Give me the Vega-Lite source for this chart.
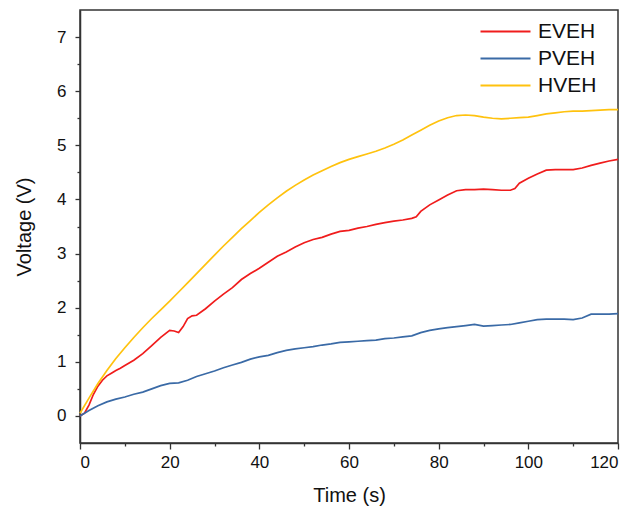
{
  "$schema": "https://vega.github.io/schema/vega-lite/v6.json",
  "width": 538,
  "height": 433,
  "autosize": {"type": "none"},
  "padding": {"left": 80, "top": 10, "right": 17, "bottom": 68},
  "background": "white",
  "config": {
    "font": "Liberation Sans",
    "view": {"stroke": "#333", "strokeWidth": 1.5},
    "axis": {
      "domainColor": "#333", "domainWidth": 1.5,
      "tickColor": "#333", "tickWidth": 1.3,
      "labelColor": "#111", "titleColor": "#111",
      "labelFont": "Liberation Sans", "titleFont": "Liberation Sans",
      "labelFontSize": 17, "titleFontSize": 20, "titleFontWeight": "normal",
      "grid": false
    },
    "legend": {"labelFont": "Liberation Sans", "labelFontSize": 21, "labelColor": "#111"}
  },
  "data": {"values": [
    {"t":0,"s":"EVEH","v":0.0},{"t":1,"s":"EVEH","v":0.05},{"t":2,"s":"EVEH","v":0.2},{"t":3,"s":"EVEH","v":0.4},{"t":4,"s":"EVEH","v":0.55},{"t":5,"s":"EVEH","v":0.66},{"t":6,"s":"EVEH","v":0.74},{"t":7,"s":"EVEH","v":0.79},{"t":8,"s":"EVEH","v":0.84},{"t":9,"s":"EVEH","v":0.88},{"t":10,"s":"EVEH","v":0.93},{"t":12,"s":"EVEH","v":1.03},{"t":14,"s":"EVEH","v":1.15},{"t":16,"s":"EVEH","v":1.3},{"t":18,"s":"EVEH","v":1.45},{"t":20,"s":"EVEH","v":1.58},{"t":21,"s":"EVEH","v":1.57},{"t":22,"s":"EVEH","v":1.54},{"t":23,"s":"EVEH","v":1.65},{"t":24,"s":"EVEH","v":1.8},{"t":25,"s":"EVEH","v":1.85},{"t":26,"s":"EVEH","v":1.86},{"t":28,"s":"EVEH","v":1.98},{"t":30,"s":"EVEH","v":2.12},{"t":32,"s":"EVEH","v":2.25},{"t":34,"s":"EVEH","v":2.37},{"t":36,"s":"EVEH","v":2.52},{"t":38,"s":"EVEH","v":2.63},{"t":40,"s":"EVEH","v":2.73},{"t":42,"s":"EVEH","v":2.84},{"t":44,"s":"EVEH","v":2.95},{"t":46,"s":"EVEH","v":3.03},{"t":48,"s":"EVEH","v":3.12},{"t":50,"s":"EVEH","v":3.2},{"t":52,"s":"EVEH","v":3.26},{"t":54,"s":"EVEH","v":3.3},{"t":56,"s":"EVEH","v":3.36},{"t":58,"s":"EVEH","v":3.41},{"t":60,"s":"EVEH","v":3.43},{"t":62,"s":"EVEH","v":3.47},{"t":64,"s":"EVEH","v":3.5},{"t":66,"s":"EVEH","v":3.54},{"t":68,"s":"EVEH","v":3.57},{"t":70,"s":"EVEH","v":3.6},{"t":72,"s":"EVEH","v":3.62},{"t":74,"s":"EVEH","v":3.65},{"t":75,"s":"EVEH","v":3.68},{"t":76,"s":"EVEH","v":3.78},{"t":78,"s":"EVEH","v":3.9},{"t":80,"s":"EVEH","v":3.99},{"t":82,"s":"EVEH","v":4.08},{"t":84,"s":"EVEH","v":4.16},{"t":86,"s":"EVEH","v":4.18},{"t":88,"s":"EVEH","v":4.18},{"t":90,"s":"EVEH","v":4.19},{"t":92,"s":"EVEH","v":4.18},{"t":94,"s":"EVEH","v":4.17},{"t":96,"s":"EVEH","v":4.17},{"t":97,"s":"EVEH","v":4.2},{"t":98,"s":"EVEH","v":4.3},{"t":100,"s":"EVEH","v":4.39},{"t":102,"s":"EVEH","v":4.47},{"t":104,"s":"EVEH","v":4.54},{"t":106,"s":"EVEH","v":4.55},{"t":108,"s":"EVEH","v":4.55},{"t":110,"s":"EVEH","v":4.55},{"t":112,"s":"EVEH","v":4.58},{"t":114,"s":"EVEH","v":4.63},{"t":116,"s":"EVEH","v":4.67},{"t":118,"s":"EVEH","v":4.71},{"t":120,"s":"EVEH","v":4.74},

    {"t":0,"s":"PVEH","v":0.0},{"t":2,"s":"PVEH","v":0.1},{"t":4,"s":"PVEH","v":0.19},{"t":6,"s":"PVEH","v":0.26},{"t":8,"s":"PVEH","v":0.31},{"t":10,"s":"PVEH","v":0.35},{"t":12,"s":"PVEH","v":0.4},{"t":14,"s":"PVEH","v":0.44},{"t":16,"s":"PVEH","v":0.5},{"t":18,"s":"PVEH","v":0.56},{"t":20,"s":"PVEH","v":0.6},{"t":22,"s":"PVEH","v":0.61},{"t":24,"s":"PVEH","v":0.66},{"t":26,"s":"PVEH","v":0.73},{"t":28,"s":"PVEH","v":0.78},{"t":30,"s":"PVEH","v":0.83},{"t":32,"s":"PVEH","v":0.89},{"t":34,"s":"PVEH","v":0.94},{"t":36,"s":"PVEH","v":0.99},{"t":38,"s":"PVEH","v":1.05},{"t":40,"s":"PVEH","v":1.09},{"t":42,"s":"PVEH","v":1.12},{"t":44,"s":"PVEH","v":1.17},{"t":46,"s":"PVEH","v":1.21},{"t":48,"s":"PVEH","v":1.24},{"t":50,"s":"PVEH","v":1.26},{"t":52,"s":"PVEH","v":1.28},{"t":54,"s":"PVEH","v":1.31},{"t":56,"s":"PVEH","v":1.33},{"t":58,"s":"PVEH","v":1.36},{"t":60,"s":"PVEH","v":1.37},{"t":62,"s":"PVEH","v":1.38},{"t":64,"s":"PVEH","v":1.39},{"t":66,"s":"PVEH","v":1.4},{"t":68,"s":"PVEH","v":1.43},{"t":70,"s":"PVEH","v":1.44},{"t":72,"s":"PVEH","v":1.46},{"t":74,"s":"PVEH","v":1.48},{"t":76,"s":"PVEH","v":1.54},{"t":78,"s":"PVEH","v":1.58},{"t":80,"s":"PVEH","v":1.61},{"t":82,"s":"PVEH","v":1.63},{"t":84,"s":"PVEH","v":1.65},{"t":86,"s":"PVEH","v":1.67},{"t":88,"s":"PVEH","v":1.69},{"t":90,"s":"PVEH","v":1.66},{"t":92,"s":"PVEH","v":1.67},{"t":94,"s":"PVEH","v":1.68},{"t":96,"s":"PVEH","v":1.69},{"t":98,"s":"PVEH","v":1.72},{"t":100,"s":"PVEH","v":1.75},{"t":102,"s":"PVEH","v":1.78},{"t":104,"s":"PVEH","v":1.79},{"t":106,"s":"PVEH","v":1.79},{"t":108,"s":"PVEH","v":1.79},{"t":110,"s":"PVEH","v":1.78},{"t":112,"s":"PVEH","v":1.81},{"t":114,"s":"PVEH","v":1.88},{"t":116,"s":"PVEH","v":1.88},{"t":118,"s":"PVEH","v":1.88},{"t":120,"s":"PVEH","v":1.89},

    {"t":0,"s":"HVEH","v":0.05},{"t":2,"s":"HVEH","v":0.33},{"t":4,"s":"HVEH","v":0.6},{"t":6,"s":"HVEH","v":0.84},{"t":8,"s":"HVEH","v":1.06},{"t":10,"s":"HVEH","v":1.26},{"t":12,"s":"HVEH","v":1.45},{"t":14,"s":"HVEH","v":1.63},{"t":16,"s":"HVEH","v":1.8},{"t":18,"s":"HVEH","v":1.96},{"t":20,"s":"HVEH","v":2.12},{"t":22,"s":"HVEH","v":2.29},{"t":24,"s":"HVEH","v":2.46},{"t":26,"s":"HVEH","v":2.63},{"t":28,"s":"HVEH","v":2.8},{"t":30,"s":"HVEH","v":2.97},{"t":32,"s":"HVEH","v":3.14},{"t":34,"s":"HVEH","v":3.3},{"t":36,"s":"HVEH","v":3.46},{"t":38,"s":"HVEH","v":3.61},{"t":40,"s":"HVEH","v":3.76},{"t":42,"s":"HVEH","v":3.9},{"t":44,"s":"HVEH","v":4.03},{"t":46,"s":"HVEH","v":4.15},{"t":48,"s":"HVEH","v":4.26},{"t":50,"s":"HVEH","v":4.36},{"t":52,"s":"HVEH","v":4.45},{"t":54,"s":"HVEH","v":4.53},{"t":56,"s":"HVEH","v":4.61},{"t":58,"s":"HVEH","v":4.68},{"t":60,"s":"HVEH","v":4.74},{"t":62,"s":"HVEH","v":4.79},{"t":64,"s":"HVEH","v":4.84},{"t":66,"s":"HVEH","v":4.89},{"t":68,"s":"HVEH","v":4.95},{"t":70,"s":"HVEH","v":5.02},{"t":72,"s":"HVEH","v":5.1},{"t":74,"s":"HVEH","v":5.19},{"t":76,"s":"HVEH","v":5.28},{"t":78,"s":"HVEH","v":5.37},{"t":80,"s":"HVEH","v":5.45},{"t":82,"s":"HVEH","v":5.51},{"t":84,"s":"HVEH","v":5.55},{"t":86,"s":"HVEH","v":5.56},{"t":88,"s":"HVEH","v":5.55},{"t":90,"s":"HVEH","v":5.52},{"t":92,"s":"HVEH","v":5.5},{"t":94,"s":"HVEH","v":5.49},{"t":96,"s":"HVEH","v":5.5},{"t":98,"s":"HVEH","v":5.51},{"t":100,"s":"HVEH","v":5.52},{"t":102,"s":"HVEH","v":5.55},{"t":104,"s":"HVEH","v":5.58},{"t":106,"s":"HVEH","v":5.6},{"t":108,"s":"HVEH","v":5.62},{"t":110,"s":"HVEH","v":5.63},{"t":112,"s":"HVEH","v":5.63},{"t":114,"s":"HVEH","v":5.64},{"t":116,"s":"HVEH","v":5.65},{"t":118,"s":"HVEH","v":5.66},{"t":120,"s":"HVEH","v":5.66}
  ]},
  "mark": {"type": "line", "strokeWidth": 1.7, "interpolate": "linear"},
  "encoding": {
    "x": {
      "field": "t", "type": "quantitative",
      "scale": {"domain": [0, 120], "nice": false, "zero": false},
      "axis": {
        "title": "Time (s)",
        "values": [0,10,20,30,40,50,60,70,80,90,100,110,120],
        "labelExpr": "datum.value % 20 === 0 ? format(datum.value, 'd') : ''",
        "tickSize": {"condition": {"test": "datum.value % 20 === 0", "value": 6}, "value": 3},
        "labelPadding": 5,
        "titlePadding": 15
      }
    },
    "y": {
      "field": "v", "type": "quantitative",
      "scale": {"domain": [-0.5, 7.5], "nice": false, "zero": false},
      "axis": {
        "title": "Voltage (V)",
        "values": [0,0.5,1,1.5,2,2.5,3,3.5,4,4.5,5,5.5,6,6.5,7],
        "labelExpr": "datum.value % 1 === 0 ? format(datum.value, 'd') : ''",
        "tickSize": {"condition": {"test": "datum.value % 1 === 0", "value": 5}, "value": 3},
        "labelPadding": 9,
        "titlePadding": 22
      }
    },
    "color": {
      "field": "s", "type": "nominal",
      "scale": {"domain": ["EVEH", "PVEH", "HVEH"], "range": ["#f01c1c", "#3a6aa6", "#ffc20e"]},
      "legend": {
        "title": null,
        "orient": "none",
        "legendX": 412,
        "legendY": 8,
        "symbolType": "M-2,0H2",
        "symbolSize": 625,
        "symbolStrokeWidth": 2,
        "labelOffset": 19,
        "rowPadding": 3
      }
    }
  }
}
